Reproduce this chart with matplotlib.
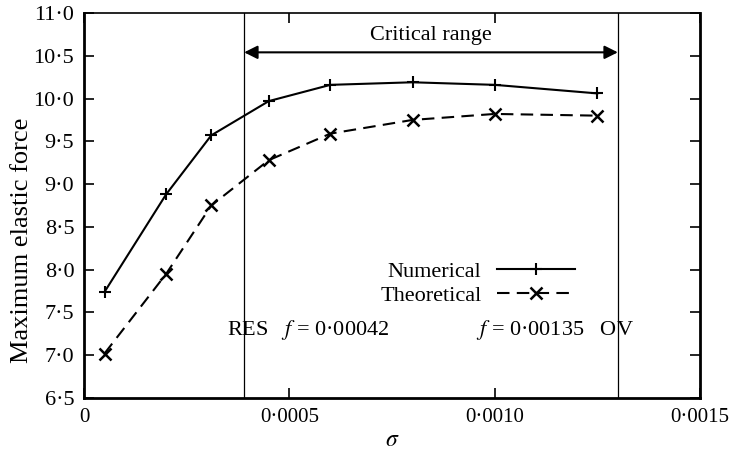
import numpy as np
import matplotlib
matplotlib.use('Agg')
import matplotlib.pyplot as plt
from matplotlib.ticker import FuncFormatter

plt.rcParams['font.family'] = 'Liberation Serif'
plt.rcParams['mathtext.fontset'] = 'stix'
plt.rcParams['font.size'] = 16

# Data
sigma = np.array([0.00005, 0.0002, 0.00031, 0.00045, 0.0006, 0.0008, 0.0010, 0.00125])
numerical = np.array([7.74, 8.88, 9.57, 9.97, 10.16, 10.19, 10.16, 10.06])
theoretical = np.array([7.02, 7.95, 8.75, 9.28, 9.59, 9.75, 9.82, 9.80])
res_line = 0.00039
ov_line = 0.0013
xticks = [0, 0.0005, 0.0010, 0.0015]
yticks = np.arange(6.5, 11.01, 0.5)

fig = plt.figure(figsize=(7.29, 4.57), dpi=100)
ax = fig.add_axes([0.1152, 0.1291, 0.845, 0.8425])

ax.plot(sigma, numerical, '-k', marker='+', ms=8, mew=1.5, lw=1.5, label='Numerical')
ax.plot(sigma, theoretical, '--k', marker='x', ms=8, mew=1.8, lw=1.5, dashes=(6, 3.5), label='Theoretical')

ax.axvline(res_line, color='k', lw=0.9)
ax.axvline(ov_line, color='k', lw=0.9)

ax.annotate('', xy=(res_line, 10.54), xytext=(ov_line, 10.54),
	arrowprops=dict(arrowstyle='<|-|>', color='k', lw=1.5, mutation_scale=20, shrinkA=0, shrinkB=0))
ax.text((res_line + ov_line) / 2, 10.74, 'Critical range', ha='center', va='center')

ax.text(0.000348, 7.3, 'RES   $f$ = 0·00042', ha='left', va='center')
ax.text(0.001338, 7.3, '$f$ = 0·00135   OV', ha='right', va='center')

ax.set_xlim(0, 0.0015)
ax.set_ylim(6.5, 11.0)
ax.set_xticks(xticks)
ax.set_yticks(yticks)
ax.xaxis.set_major_formatter(FuncFormatter(lambda v, p: '0' if v == 0 else ('%.4f' % v).replace('.', '·')))
ax.yaxis.set_major_formatter(FuncFormatter(lambda v, p: ('%.1f' % v).replace('.', '·')))
ax.tick_params(direction='in', top=True, right=True, length=7, width=1.2, labelsize=16, pad=7)
ax.tick_params(axis='x', labelsize=15)

for s in ['left', 'bottom', 'right']:
	ax.spines[s].set_linewidth(2.0)
ax.spines['top'].set_linewidth(1.2)

ax.set_xlabel('$\\sigma$', fontsize=17, labelpad=2)
ax.set_ylabel('Maximum elastic force', fontsize=19)
ax.yaxis.set_label_coords(-0.082, 0.41)

leg = ax.legend(loc='upper right', bbox_to_anchor=(0.797, 0.354), frameon=False,
	markerfirst=False, handlelength=3.5, handletextpad=0.7, labelspacing=0.15,
	borderaxespad=0, borderpad=0, fontsize=16)
for t in leg.get_texts():
	t.set_ha('right')

fig.savefig('out.png', dpi=100)
